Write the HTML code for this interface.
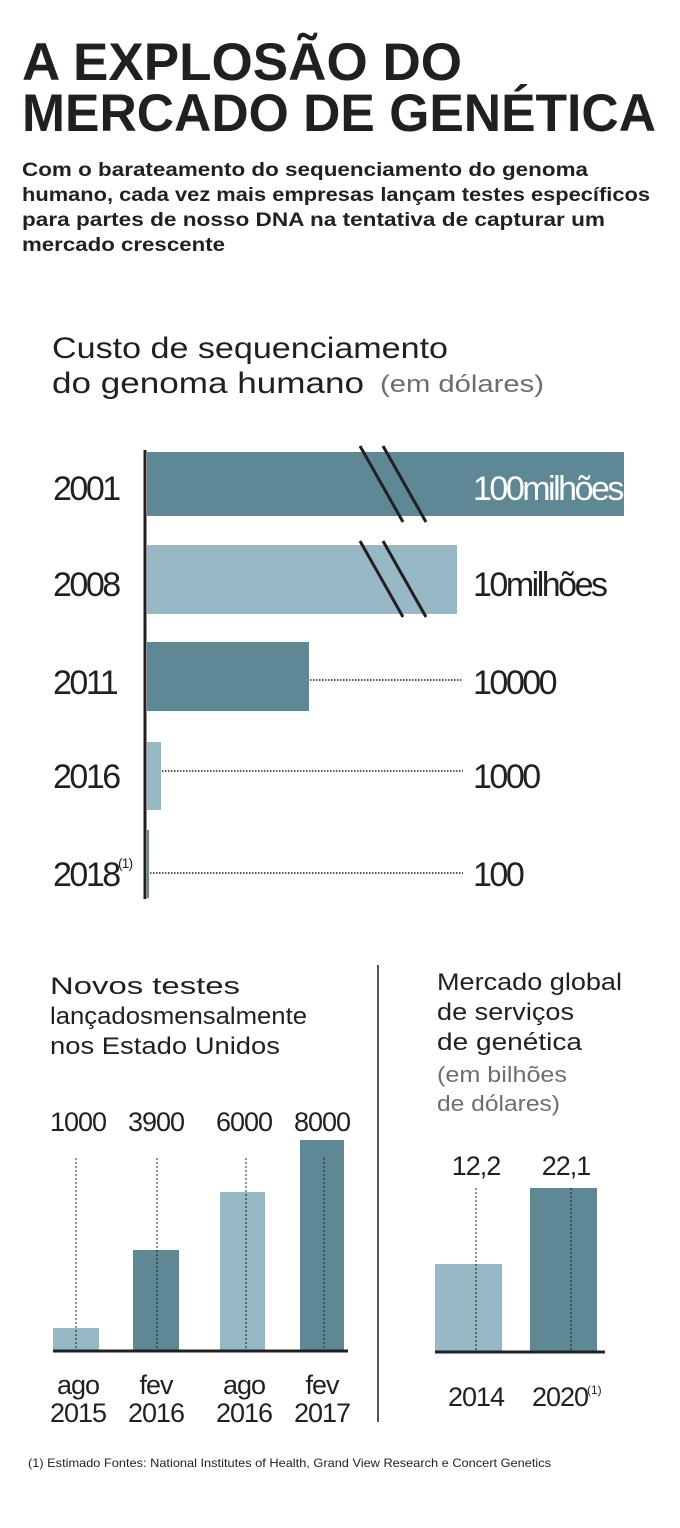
<!DOCTYPE html>
<html><head><meta charset="utf-8"><style>
html,body{margin:0;padding:0;background:#fff;}
svg{display:block;}
text{font-family:"Liberation Sans",sans-serif;fill:#231f20;}
</style></head><body>
<svg width="680" height="1528" viewBox="0 0 680 1528" xmlns="http://www.w3.org/2000/svg">
<text x="22" y="80" font-size="53" font-weight="bold" textLength="440" lengthAdjust="spacingAndGlyphs">A EXPLOSÃO DO</text>
<text x="22" y="131" font-size="53" font-weight="bold" textLength="634" lengthAdjust="spacingAndGlyphs">MERCADO DE GENÉTICA</text>
<g font-size="19" font-weight="bold">
<text x="22" y="176" textLength="566" lengthAdjust="spacingAndGlyphs">Com o barateamento do sequenciamento do genoma</text>
<text x="22" y="201" textLength="628" lengthAdjust="spacingAndGlyphs">humano, cada vez mais empresas lançam testes específicos</text>
<text x="22" y="226" textLength="583" lengthAdjust="spacingAndGlyphs">para partes de nosso DNA na tentativa de capturar um</text>
<text x="22" y="251" textLength="203" lengthAdjust="spacingAndGlyphs">mercado crescente</text>
</g>
<text x="52" y="358" font-size="30" textLength="396" lengthAdjust="spacingAndGlyphs">Custo de sequenciamento</text>
<text x="52" y="393" font-size="30" textLength="312" lengthAdjust="spacingAndGlyphs">do genoma humano</text>
<text x="380" y="392" font-size="24" style="fill:#6d6e70" textLength="164" lengthAdjust="spacingAndGlyphs">(em dólares)</text>

<rect x="147" y="452" width="477" height="64" fill="#5e8894"/>
<rect x="147" y="545" width="310" height="69" fill="#97b9c5"/>
<rect x="147" y="642" width="162" height="69" fill="#5e8894"/>
<rect x="147" y="742" width="14" height="68" fill="#97b9c5"/>
<rect x="147" y="830" width="2" height="68" fill="#5e8894"/>
<line x1="145" y1="450" x2="145" y2="899" stroke="#231f20" stroke-width="3"/>
<g stroke="#231f20" stroke-width="3">
<line x1="360" y1="446" x2="403" y2="522"/><line x1="383" y1="446" x2="426" y2="522"/>
<line x1="360" y1="541" x2="403" y2="617"/><line x1="383" y1="541" x2="426" y2="617"/>
</g>
<g stroke="#231f20" stroke-width="1.5" stroke-dasharray="1.5 1.5">
<line x1="310" y1="680" x2="463" y2="680"/>
<line x1="162" y1="771" x2="463" y2="771"/>
<line x1="150" y1="873" x2="463" y2="873"/>
</g>
<g font-size="34" letter-spacing="-2.5">
<text x="53" y="500">2001</text>
<text x="53" y="596">2008</text>
<text x="53" y="694">2011</text>
<text x="53" y="788">2016</text>
<text x="53" y="886">2018</text>
<text x="118" y="868" font-size="14" letter-spacing="-1">(1)</text>
<text x="473" y="500" style="fill:#fff">100milhões</text>
<text x="473" y="596">10milhões</text>
<text x="473" y="694">10000</text>
<text x="473" y="788">1000</text>
<text x="473" y="886">100</text>
</g>

<g font-size="24">
<text x="50" y="994" textLength="190" lengthAdjust="spacingAndGlyphs">Novos testes</text>
<text x="50" y="1024" textLength="257" lengthAdjust="spacingAndGlyphs">lançadosmensalmente</text>
<text x="50" y="1054" textLength="230" lengthAdjust="spacingAndGlyphs">nos Estado Unidos</text>
<text x="437" y="990" textLength="185" lengthAdjust="spacingAndGlyphs">Mercado global</text>
<text x="437" y="1020" textLength="137" lengthAdjust="spacingAndGlyphs">de serviços</text>
<text x="437" y="1050" textLength="145" lengthAdjust="spacingAndGlyphs">de genética</text>
</g>
<g font-size="22">
<text x="437" y="1082" style="fill:#6d6e70" textLength="130" lengthAdjust="spacingAndGlyphs">(em bilhões</text>
<text x="437" y="1111" style="fill:#6d6e70" textLength="123" lengthAdjust="spacingAndGlyphs">de dólares)</text>
</g>
<line x1="378" y1="965" x2="378" y2="1422" stroke="#231f20" stroke-width="1.5"/>

<rect x="53" y="1328" width="46" height="23" fill="#97b9c5"/>
<rect x="133" y="1250" width="46" height="101" fill="#5e8894"/>
<rect x="220" y="1192" width="45" height="159" fill="#97b9c5"/>
<rect x="300" y="1140" width="44" height="211" fill="#5e8894"/>
<rect x="435" y="1264" width="67" height="87" fill="#97b9c5"/>
<rect x="530" y="1188" width="67" height="163" fill="#5e8894"/>
<line x1="53" y1="1351" x2="348" y2="1351" stroke="#231f20" stroke-width="3"/>
<line x1="435" y1="1352" x2="605" y2="1352" stroke="#231f20" stroke-width="3"/>
<g stroke="#231f20" stroke-width="1" stroke-dasharray="2 2">
<line x1="76" y1="1158" x2="76" y2="1350"/>
<line x1="157" y1="1158" x2="157" y2="1350"/>
<line x1="246" y1="1158" x2="246" y2="1350"/>
<line x1="324" y1="1158" x2="324" y2="1350"/>
<line x1="476" y1="1188" x2="476" y2="1350"/>
<line x1="571" y1="1188" x2="571" y2="1350"/>
</g>
<g font-size="27" text-anchor="middle" letter-spacing="-1">
<text x="78" y="1131">1000</text>
<text x="156" y="1131">3900</text>
<text x="244" y="1131">6000</text>
<text x="322" y="1131">8000</text>
<text x="78" y="1394">ago</text><text x="78" y="1422">2015</text>
<text x="156" y="1394">fev</text><text x="156" y="1422">2016</text>
<text x="244" y="1394">ago</text><text x="244" y="1422">2016</text>
<text x="322" y="1394">fev</text><text x="322" y="1422">2017</text>
<text x="476" y="1175">12,2</text>
<text x="566" y="1175">22,1</text>
<text x="476" y="1406">2014</text>
<text x="560" y="1406">2020</text>
</g>
<text x="587" y="1394" font-size="12">(1)</text>
<text x="28" y="1467" font-size="12" textLength="523" lengthAdjust="spacingAndGlyphs">(1) Estimado Fontes: National Institutes of Health, Grand View Research e Concert Genetics</text>
</svg>
</body></html>
